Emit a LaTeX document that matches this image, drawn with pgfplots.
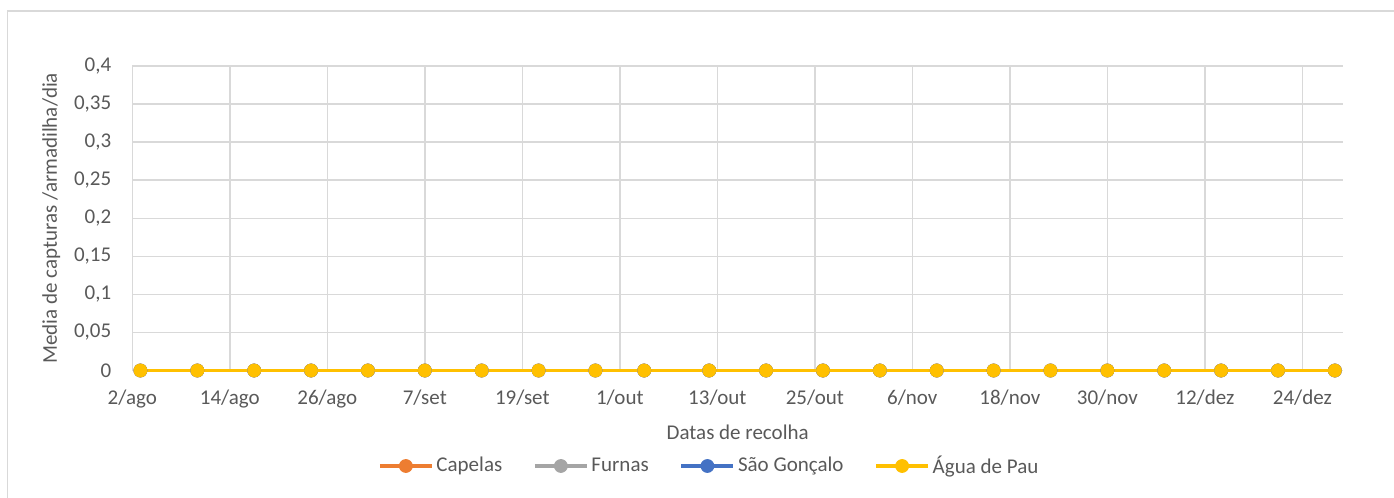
\documentclass[border=0pt]{standalone}
\usepackage{fontspec}
\setmainfont{Carlito}
\usepackage{pgfplots}
\usepackage{pgfplotstable}
\pgfplotsset{compat=1.18}
\definecolor{cCapelas}{HTML}{ED7D31}
\definecolor{cFurnas}{HTML}{A5A5A5}
\definecolor{cSaoGoncalo}{HTML}{4472C4}
\definecolor{cAguaDePau}{HTML}{FFC000}
\definecolor{gridc}{HTML}{D9D9D9}
\definecolor{txt}{HTML}{595959}
\pgfplotstableread{
day capelas furnas saogoncalo aguadepau
1   0 0 0 0
8   0 0 0 0
15  0 0 0 0
22  0 0 0 0
29  0 0 0 0
36  0 0 0 0
43  0 0 0 0
50  0 0 0 0
57  0 0 0 0
63  0 0 0 0
71  0 0 0 0
78  0 0 0 0
85  0 0 0 0
92  0 0 0 0
99  0 0 0 0
106 0 0 0 0
113 0 0 0 0
120 0 0 0 0
127 0 0 0 0
134 0 0 0 0
141 0 0 0 0
148 0 0 0 0
}\data
\newcommand{\cfont}{\fontsize{10.5}{12.5}\selectfont}
\begin{document}
\begin{tikzpicture}
\begin{axis}[
  at={(0,0)}, anchor=south west,
  scale only axis, width=605.35pt, height=152.25pt,
  xmin=0, xmax=149, ymin=0, ymax=0.4,
  xtick={0,12,24,36,48,60,72,84,96,108,120,132,144},
  xticklabels={2/ago,14/ago,26/ago,7/set,19/set,1/out,13/out,25/out,6/nov,18/nov,30/nov,12/dez,24/dez},
  ytick={0,0.05,0.1,0.15,0.2,0.25,0.3,0.35,0.4},
  yticklabels={{0},{0,05},{0,1},{0,15},{0,2},{0,25},{0,3},{0,35},{0,4}},
  grid=major, grid style={gridc, line width=0.75pt},
  axis line style={draw=none},
  major tick length=0pt,
  tick label style={font=\cfont, text=txt},
  xticklabel style={yshift=-6pt},
  yticklabel style={xshift=-7pt},
  xlabel={Datas de recolha}, ylabel={Media de capturas /armadilha/dia},
  label style={font=\cfont, text=txt},
  xlabel style={at={(axis description cs:0.5,-0.202)}, anchor=center},
  ylabel style={at={(axis description cs:-0.067,0.5)}, anchor=center},
  legend columns=4,
  legend style={at={(axis description cs:0.477,-0.3136)}, anchor=center, draw=none, fill=none,
    font=\cfont, text=txt, nodes={inner xsep=1.5pt},
    /tikz/every even column/.append style={column sep=14pt}},
  legend image code/.code={\draw[mark repeat=2,mark phase=2] plot coordinates {(0pt,0pt)(13pt,0pt)(26pt,0pt)};},
  clip=false,
  every axis plot/.append style={line width=1.6pt, mark=*, mark size=3.2pt},
]
\addplot[color=cCapelas, mark options={fill=cCapelas, draw=cCapelas, line width=0.5pt}] table[x=day, y=capelas] {\data};
\addlegendentry{Capelas}
\addplot[color=cFurnas, mark options={fill=cFurnas, draw=cFurnas, line width=0.5pt}] table[x=day, y=furnas] {\data};
\addlegendentry{Furnas}
\addplot[color=cSaoGoncalo, mark options={fill=cSaoGoncalo, draw=cSaoGoncalo, line width=0.5pt}] table[x=day, y=saogoncalo] {\data};
\addlegendentry{São Gonçalo}
\addplot[color=cAguaDePau, mark options={fill=cAguaDePau, draw=cAguaDePau, line width=0.5pt}] table[x=day, y=aguadepau] {\data};
\addlegendentry{Água de Pau}
\end{axis}
\draw[gridc, line width=0.75pt] (-62.4pt,-63.75pt) -- (-62.4pt,179.75pt) -- (630.85pt,179.75pt);
\pgfresetboundingbox
\path (-66.15pt,-63.75pt) rectangle (630.85pt,185.25pt);
\end{tikzpicture}
\end{document}
